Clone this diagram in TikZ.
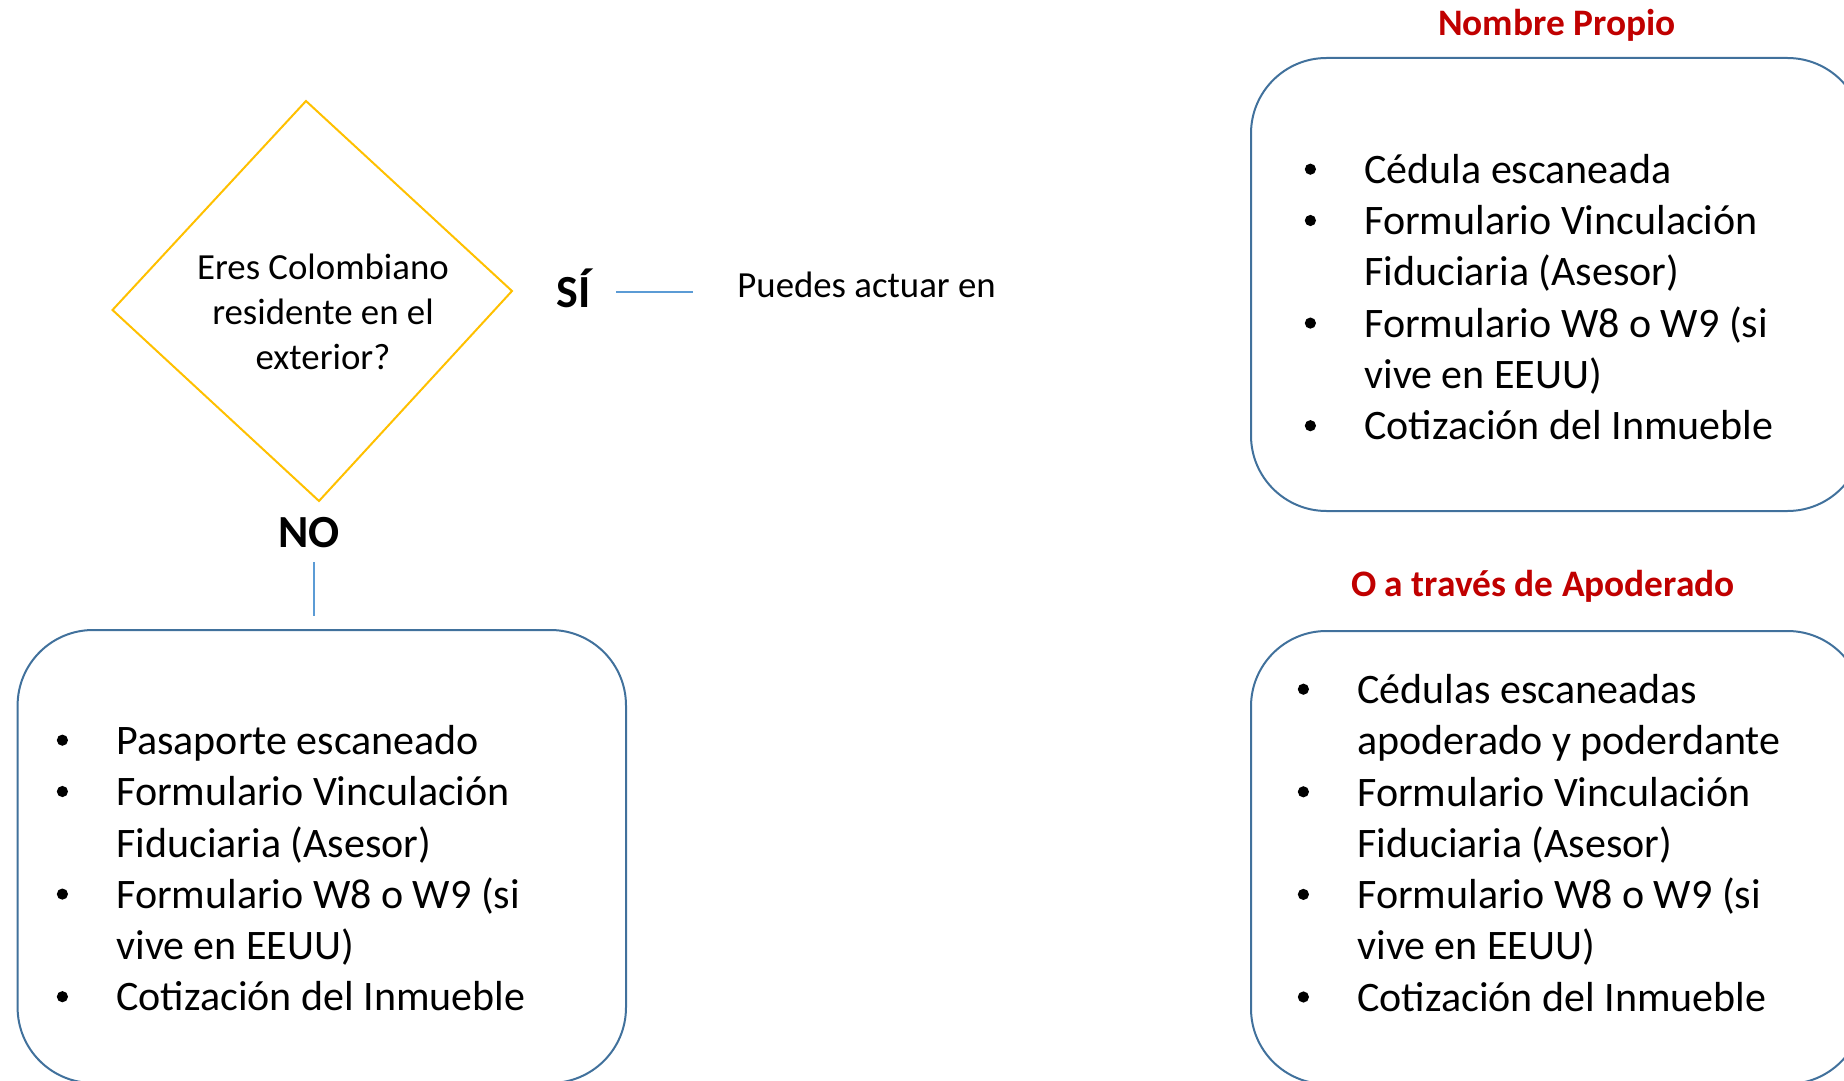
\documentclass[tikz,border=0pt]{standalone}
\usepackage{fontspec}
\setmainfont{Carlito}
\definecolor{boxblue}{HTML}{41719C}
\definecolor{lineblue}{HTML}{5B9BD5}
\definecolor{goldline}{HTML}{FFC000}
\definecolor{titlered}{HTML}{C00000}
\newcommand\bulmark{\raisebox{4.3pt}{\tikz\fill[black] (0,0) circle (2.8pt);}}
\newcommand\bul{\makebox[27pt][l]{\makebox[0pt][c]{\bulmark}}}
\newcommand\cont{\makebox[27pt]{}}
\begin{document}
\begin{tikzpicture}[x=0.5pt,y=-0.5pt,
  box/.style={draw=boxblue, line width=1pt, rounded corners=37.75pt, rectangle, inner sep=0pt},
  listtext/.style={inner sep=0pt, anchor=base west, font=\fontsize{21}{25.65}\selectfont},
  qtext/.style={inner sep=0pt, anchor=base, font=\fontsize{18.4}{22.5}\selectfont},
  answer/.style={inner sep=0pt, anchor=base, font=\bfseries\fontsize{23}{27}\selectfont},
  title/.style={inner sep=0pt, anchor=base, text=titlered, font=\bfseries\fontsize{18.7}{22}\selectfont},
  link/.style={draw=lineblue, line width=0.75pt}]
\useasboundingbox (0,0) rectangle (1844,1081);
\clip (0,0) rectangle (1844,1081);

% boxes
\node[box, minimum width=306pt, minimum height=226.5pt] (nombre) at (1557,284.5) {};
\node[box, minimum width=306pt, minimum height=226.5pt] (apoderado) at (1557,857.5) {};
\node[box, minimum width=304.2pt, minimum height=226.5pt] (nobox) at (321.8,856.5) {};

% decision diamond
\draw[goldline, line width=1pt] (306,101) -- (512,291) -- (319,501) -- (112.5,310) -- cycle;
\node[qtext] (q) at (323,279.5) {\begin{tabular}[t]{@{}c@{}}Eres Colombiano\\residente en el\\exterior?\end{tabular}};

% answers
\node[answer] (si) at (573.5,307) {SÍ};
\node[answer] (no) at (309,547.5) {NO};
\node[qtext, anchor=base west] (puedes) at (737,298) {Puedes actuar en};

\coordinate (siA) at (616,292);
\coordinate (siB) at (693,292);
\draw[link] (siA) -- (siB);
\coordinate (noA) at (314,562);
\coordinate (noB) at (314,616);
\draw[link] (noA) -- (noB);

% titles
\node[title] (t1) at (1557,35.7) {Nombre Propio};
\node[title] (t2) at (1543,596.2) {O a través de Apoderado};

% lists
\node[listtext] (l1) at (1310,183.4) {\begin{tabular}[t]{@{}l@{}}\bul Cédula escaneada\\ \bul Formulario Vinculación\\ \cont Fiduciaria (Asesor)\\ \bul Formulario W8 o W9 (si\\ \cont vive en EEUU)\\ \bul Cotización del Inmueble\end{tabular}};
\node[listtext] (l2) at (1303,703.4) {\begin{tabular}[t]{@{}l@{}}\bul Cédulas escaneadas\\ \cont apoderado y poderdante\\ \bul Formulario Vinculación\\ \cont Fiduciaria (Asesor)\\ \bul Formulario W8 o W9 (si\\ \cont vive en EEUU)\\ \bul Cotización del Inmueble\end{tabular}};
\node[listtext] (l3) at (62,754.4) {\begin{tabular}[t]{@{}l@{}}\bul Pasaporte escaneado\\ \bul Formulario Vinculación\\ \cont Fiduciaria (Asesor)\\ \bul Formulario W8 o W9 (si\\ \cont vive en EEUU)\\ \bul Cotización del Inmueble\end{tabular}};
\end{tikzpicture}
\end{document}
